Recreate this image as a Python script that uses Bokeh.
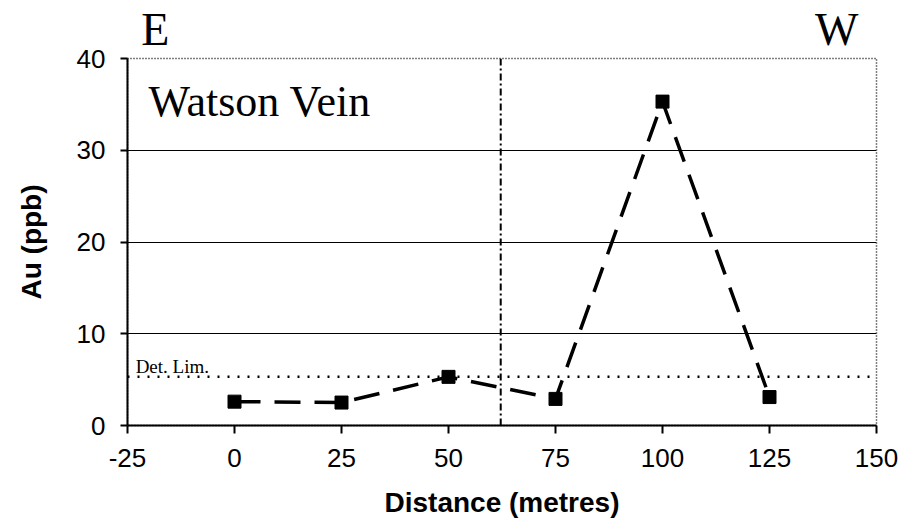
from bokeh.plotting import figure
from bokeh.models import FixedTicker, Span, Label, Range1d, LinearAxis
from bokeh.embed import file_html
from bokeh.resources import INLINE

# ---- data ----
distance = [0, 25, 50, 75, 100, 125]
au_ppb = [2.6, 2.5, 5.3, 2.9, 35.3, 3.1]
x_ticks = [-25, 0, 25, 50, 75, 100, 125, 150]
x_tick_labels = ["-25", "0", "25", "50", "75", "100", "125", "150"]
y_ticks = [0, 10, 20, 30, 40]
detection_limit = 5.3
divider_x = 62.2
direction_pos = [-18.5, 140.7]
direction_labels = ["E", "W"]

p = figure(width=910, height=525,
           x_range=Range1d(-25, 150), y_range=Range1d(0, 40),
           output_backend="svg", toolbar_location=None,
           min_border_left=127, min_border_right=34,
           min_border_top=58, min_border_bottom=100)

p.background_fill_color = "white"
p.border_fill_color = "white"
p.outline_line_color = "black"
p.outline_line_width = 1.5
p.outline_line_dash = "1 2"

p.xgrid.visible = False
p.ygrid.grid_line_color = "black"
p.ygrid.grid_line_width = 1
p.ygrid.ticker = FixedTicker(ticks=y_ticks)

p.xaxis.ticker = FixedTicker(ticks=x_ticks)
p.xaxis.major_label_overrides = {t: s for t, s in zip(x_ticks, x_tick_labels)}
p.yaxis.ticker = FixedTicker(ticks=y_ticks)
for ax in (p.xaxis, p.yaxis):
    ax.axis_line_color = "black"
    ax.axis_line_width = 2
    ax.major_tick_line_color = "black"
    ax.major_tick_line_width = 2
    ax.major_tick_in = 0
    ax.minor_tick_line_color = None
    ax.major_label_text_font = "Liberation Sans"
    ax.major_label_text_font_size = "26px"
    ax.major_label_text_color = "black"
    ax.axis_label_text_font = "Liberation Sans"
    ax.axis_label_text_font_size = "28px"
    ax.axis_label_text_font_style = "bold"
    ax.axis_label_text_color = "black"

p.xaxis.major_tick_out = 8
p.xaxis.major_label_standoff = 15
p.xaxis.axis_label = "Distance (metres)"
p.xaxis.axis_label_standoff = 17

p.yaxis.major_tick_out = 7
p.yaxis.major_label_standoff = 15
p.yaxis.axis_label = "Au (ppb)"
p.yaxis.axis_label_standoff = 27

# E / W direction labels above the frame
top_axis = LinearAxis(ticker=FixedTicker(ticks=direction_pos),
                      major_label_overrides={t: s for t, s in zip(direction_pos, direction_labels)})
top_axis.axis_line_color = None
top_axis.major_tick_line_color = None
top_axis.minor_tick_line_color = None
top_axis.major_tick_out = 0
top_axis.major_tick_in = 0
top_axis.major_label_standoff = 4
top_axis.major_label_text_font = "Liberation Serif"
top_axis.major_label_text_font_size = "46px"
top_axis.major_label_text_color = "black"
p.add_layout(top_axis, "above")

p.add_layout(Span(location=detection_limit, dimension="width",
                  line_color="black", line_dash="2 8", line_width=2.5))
p.add_layout(Span(location=divider_x, dimension="height",
                  line_color="black", line_dash="7 3 2 3", line_width=2))

p.line(distance, au_ppb, line_color="black", line_width=3.5, line_dash="26 14")
p.scatter(distance, au_ppb, marker="square", size=13,
          fill_color="black", line_color="black")

p.add_layout(Label(x=-20.1, y=32.6, text="Watson Vein", text_font="Liberation Serif",
                   text_font_size="44px", text_color="black"))
p.add_layout(Label(x=-23.1, y=5.3, text="Det. Lim.", text_font="Liberation Serif",
                   text_font_size="19px", text_color="black"))

open("out.html", "w").write(file_html(p, INLINE))
